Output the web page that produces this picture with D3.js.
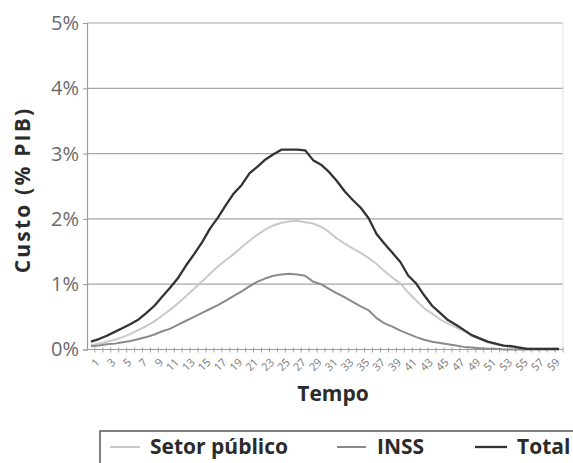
<!DOCTYPE html>
<html>
<head>
<meta charset="utf-8">
<script src="https://cdn.jsdelivr.net/npm/d3@7"></script>
<style>
  html, body { margin: 0; padding: 0; background: #fff; }
  svg { display: block; }
</style>
</head>
<body>
<svg id="chart" width="573" height="463"></svg>
<script>
// Periods on the horizontal axis
const periods = [1,2,3,4,5,6,7,8,9,10,11,12,13,14,15,16,17,18,19,20,
  21,22,23,24,25,26,27,28,29,30,31,32,33,34,35,36,37,38,39,40,
  41,42,43,44,45,46,47,48,49,50,51,52,53,54,55,56,57,58,59,60];

// Cost as % of GDP, per period
const setorPublico = [0.07,0.09,0.12,0.15,0.19,0.24,0.30,0.36,0.43,0.52,
  0.61,0.71,0.82,0.93,1.04,1.16,1.27,1.37,1.46,1.57,
  1.67,1.76,1.84,1.90,1.94,1.96,1.97,1.95,1.93,1.88,
  1.80,1.70,1.62,1.55,1.48,1.40,1.31,1.20,1.10,1.01,
  0.87,0.75,0.63,0.55,0.46,0.40,0.34,0.28,0.21,0.16,
  0.11,0.08,0.06,0.04,0.03,0.01,0.01,0.01,0.01,0.01];

const inss = [0.05,0.06,0.08,0.09,0.11,0.13,0.16,0.19,0.23,0.28,
  0.32,0.38,0.44,0.50,0.56,0.62,0.68,0.75,0.82,0.89,
  0.97,1.04,1.09,1.13,1.15,1.16,1.15,1.13,1.04,1.00,
  0.93,0.86,0.80,0.73,0.66,0.60,0.48,0.40,0.35,0.29,
  0.24,0.19,0.15,0.12,0.10,0.08,0.06,0.04,0.03,0.02,
  0.01,0.01,0.00,0.00,0.00,0.00,0.00,0.00,0.00,0.00];

const total = [0.12,0.16,0.21,0.27,0.33,0.39,0.46,0.56,0.67,0.81,
  0.95,1.10,1.29,1.46,1.64,1.85,2.02,2.21,2.39,2.52,
  2.70,2.80,2.91,2.99,3.06,3.06,3.06,3.05,2.90,2.83,
  2.72,2.58,2.42,2.29,2.17,2.01,1.77,1.62,1.48,1.34,
  1.13,1.01,0.83,0.67,0.56,0.45,0.38,0.30,0.22,0.17,
  0.12,0.09,0.06,0.05,0.03,0.01,0.01,0.01,0.01,0.01];

const yTickValues = [0, 1, 2, 3, 4, 5];
const yTickLabels = ["0%", "1%", "2%", "3%", "4%", "5%"];

const seriesNames = ["Setor público", "INSS", "Total"];

const svg = d3.select("#chart");
const font = "'Open Sans', 'Noto Sans', sans-serif";

const plot = { left: 87, right: 563, top: 23, bottom: 349.5 };

const x = d3.scaleBand().domain(periods).range([plot.left, plot.right]).padding(0);
const y = d3.scaleLinear().domain([0, 5]).range([plot.bottom, plot.top]);
const cx = d => x(d) + x.bandwidth() / 2;

const color = d3.scaleOrdinal().domain(seriesNames).range(["#c9c9c9", "#8a8a8a", "#333333"]);
const widths = { "Setor público": 2, "INSS": 2, "Total": 2.3 };

// Horizontal gridlines
svg.append("g")
  .selectAll("line")
  .data(yTickValues.filter(v => v > 0))
  .join("line")
  .attr("x1", plot.left).attr("x2", plot.right)
  .attr("y1", d => y(d)).attr("y2", d => y(d))
  .attr("stroke", "#a6a6a6").attr("stroke-width", 1.2);

// Faint right edge of the plot area
svg.append("line")
  .attr("x1", plot.right).attr("x2", plot.right)
  .attr("y1", plot.top).attr("y2", plot.bottom)
  .attr("stroke", "#e2e2e2").attr("stroke-width", 1);

// Y axis
const yAxis = d3.axisLeft(y)
  .tickValues(yTickValues)
  .tickFormat((d, i) => yTickLabels[i])
  .tickSize(4)
  .tickPadding(4);
const gy = svg.append("g").attr("transform", `translate(${plot.left},0)`).call(yAxis);
gy.select(".domain").attr("stroke", "#9a9a9a").attr("stroke-width", 1.2);
gy.selectAll(".tick line").attr("stroke", "#9a9a9a");
gy.selectAll(".tick text")
  .attr("font-family", font).attr("font-size", 20).attr("fill", "#6a6a6a");

// X axis: ticks at category boundaries, labels on odd periods
const gx = svg.append("g").attr("transform", `translate(0,${plot.bottom})`);
gx.append("line")
  .attr("x1", plot.left).attr("x2", plot.right)
  .attr("stroke", "#9a9a9a").attr("stroke-width", 1.2);
gx.selectAll("line.tk")
  .data(periods)
  .join("line")
  .attr("class", "tk")
  .attr("x1", d => x(d) + x.bandwidth()).attr("x2", d => x(d) + x.bandwidth())
  .attr("y1", -2).attr("y2", 3)
  .attr("stroke", "#a0a0a0").attr("stroke-width", 1);
gx.selectAll("text")
  .data(periods.filter(p => p % 2 === 1))
  .join("text")
  .attr("transform", d => `translate(${cx(d) + 4},${8}) rotate(-45)`)
  .attr("text-anchor", "end")
  .attr("dy", "0.7em")
  .attr("font-family", font).attr("font-size", 11).attr("fill", "#777")
  .text(d => d);

// Series lines
const seriesData = [
  { name: "Setor público", values: setorPublico },
  { name: "INSS", values: inss },
  { name: "Total", values: total }
];
const line = d3.line()
  .x((d, i) => cx(periods[i]))
  .y(d => y(d));

svg.append("g")
  .selectAll("path")
  .data(seriesData)
  .join("path")
  .attr("d", d => line(d.values))
  .attr("fill", "none")
  .attr("stroke", d => color(d.name))
  .attr("stroke-width", d => widths[d.name])
  .attr("stroke-linejoin", "round");

// Axis titles
svg.append("text")
  .attr("transform", `translate(30,190) rotate(-90)`)
  .attr("text-anchor", "middle")
  .attr("font-family", font).attr("font-weight", 700)
  .attr("font-size", 21).attr("letter-spacing", 2.2)
  .attr("fill", "#2b2b2b")
  .text("Custo (% PIB)");

svg.append("text")
  .attr("x", 333).attr("y", 401)
  .attr("text-anchor", "middle")
  .attr("font-family", font).attr("font-weight", 700)
  .attr("font-size", 21).attr("fill", "#2b2b2b")
  .text("Tempo");

// Legend box (runs off the right edge)
const legend = svg.append("g");
legend.append("path")
  .attr("d", "M100,463 L100,431 L575,431")
  .attr("fill", "none").attr("stroke", "#555").attr("stroke-width", 1.5);

const legendItems = [
  { name: "Setor público", x0: 110, x1: 140, tx: 150 },
  { name: "INSS", x0: 337, x1: 366, tx: 377 },
  { name: "Total", x0: 475, x1: 507, tx: 517 }
];
legendItems.forEach(it => {
  legend.append("line")
    .attr("x1", it.x0).attr("x2", it.x1)
    .attr("y1", 447).attr("y2", 447)
    .attr("stroke", color(it.name)).attr("stroke-width", widths[it.name]);
  legend.append("text")
    .attr("x", it.tx).attr("y", 454)
    .attr("font-family", font).attr("font-weight", 700)
    .attr("font-size", 21).attr("fill", "#2b2b2b")
    .text(it.name);
});
</script>
</body>
</html>
